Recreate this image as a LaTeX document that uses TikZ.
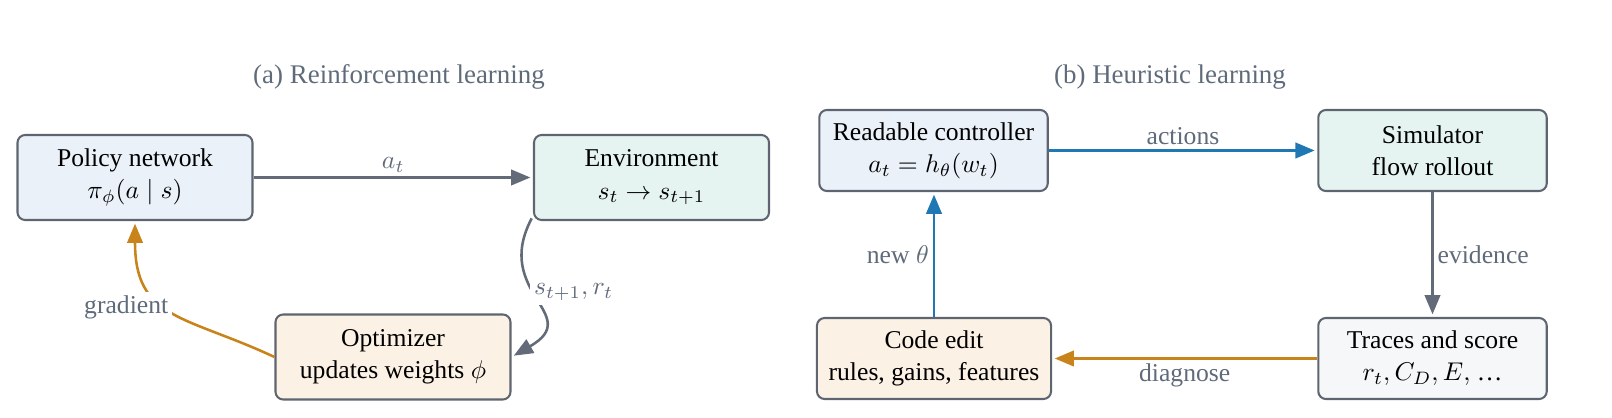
\documentclass[tikz,border=0pt]{standalone}
\usepackage[no-math]{fontspec}
\setmainfont{Liberation Serif}
\usetikzlibrary{arrows.meta}
\definecolor{edgegray}{HTML}{636B78}
\definecolor{labgray}{HTML}{5F6B7A}
\definecolor{boxborder}{HTML}{5F6570}
\definecolor{eblue}{HTML}{1F77B4}
\definecolor{eorange}{HTML}{C8841A}
\definecolor{fblue}{HTML}{EAF1F9}
\definecolor{fteal}{HTML}{E5F4F1}
\definecolor{forange}{HTML}{FCF1E5}
\definecolor{fgray}{HTML}{F5F7F9}
\begin{document}
\begin{tikzpicture}[x=0.39pt,y=0.39pt,
  box/.style={draw=boxborder, line width=0.8pt, rounded corners=3pt, align=center,
    inner sep=0pt, font=\fontsize{10}{12.5}\selectfont, text=black},
  boxa/.style={box, minimum width=91.65pt, minimum height=33.15pt},
  boxb/.style={box, minimum width=89.1pt, minimum height=31.6pt},
  paneltitle/.style={font=\fontsize{10.5}{12}\selectfont, text=labgray},
  elabel/.style={font=\fontsize{10}{12}\selectfont, text=labgray, inner sep=1.5pt},
  conn/.style={line width=1pt, -{Triangle[length=7.5pt,width=6pt]}, shorten >=1pt},
  grayconn/.style={conn, draw=edgegray},
  blueconn/.style={conn, draw=eblue, line width=1.1pt},
  orangeconn/.style={conn, draw=eorange}]
\useasboundingbox (0,0) rectangle (1612,418);

% panel (a)
\node[paneltitle] (ta) at (399,341) {(a) Reinforcement learning};
\node[boxa, fill=fblue] (policy) at (135,240.5) {Policy network\\ $\pi_\phi(a \mid s)$};
\node[boxa, fill=fteal] (env) at (651.5,240.5) {Environment\\ $s_t \rightarrow s_{t+1}$};
\node[boxa, fill=forange] (opt) at (393,61) {Optimizer\\ updates weights $\phi$};

\draw[grayconn] (policy.east) -- node[elabel, above] (lat) {$a_t$} (env.west);
\draw[grayconn] ([xshift=-0.5pt,yshift=1pt]env.south west) to[out=-118, in=30, looseness=1.55]
  node[elabel, pos=0.5, anchor=west, fill=white, xshift=-2pt, yshift=3pt] (ls) {$s_{t+1}, r_t$} (opt.east);
\draw[orangeconn] (opt.west) to[out=155, in=-90, looseness=1.3]
  node[elabel, pos=0.55, anchor=east, fill=white, xshift=3.5pt, yshift=-1pt] (lg) {gradient} (policy.south);

% panel (b)
\node[paneltitle] (tb) at (1170,341) {(b) Heuristic learning};
\node[boxb, fill=fblue] (ctrl) at (933.5,267.5) {Readable controller\\ $a_t = h_\theta(w_t)$};
\node[boxb, fill=fteal] (sim) at (1432.5,267.5) {Simulator\\ flow rollout};
\node[boxb, fill=forange, minimum width=91.3pt] (code) at (934,59.5) {Code edit\\ rules, gains, features};
\node[boxb, fill=fgray] (traces) at (1432.5,59.5) {Traces and score\\ $r_t, C_D, E,$ …};

\draw[blueconn] (ctrl.east) -- node[elabel, above] (lact) {actions} (sim.west);
\draw[grayconn] (sim.south) -- node[elabel, right] (lev) {evidence} (traces.north);
\draw[orangeconn] (traces.west) -- node[elabel, below] (ldiag) {diagnose} (code.east);
\draw[blueconn] (code.north) -- node[elabel, left] (lnew) {new $\theta$} (code.north |- ctrl.south);
\end{tikzpicture}
\end{document}
